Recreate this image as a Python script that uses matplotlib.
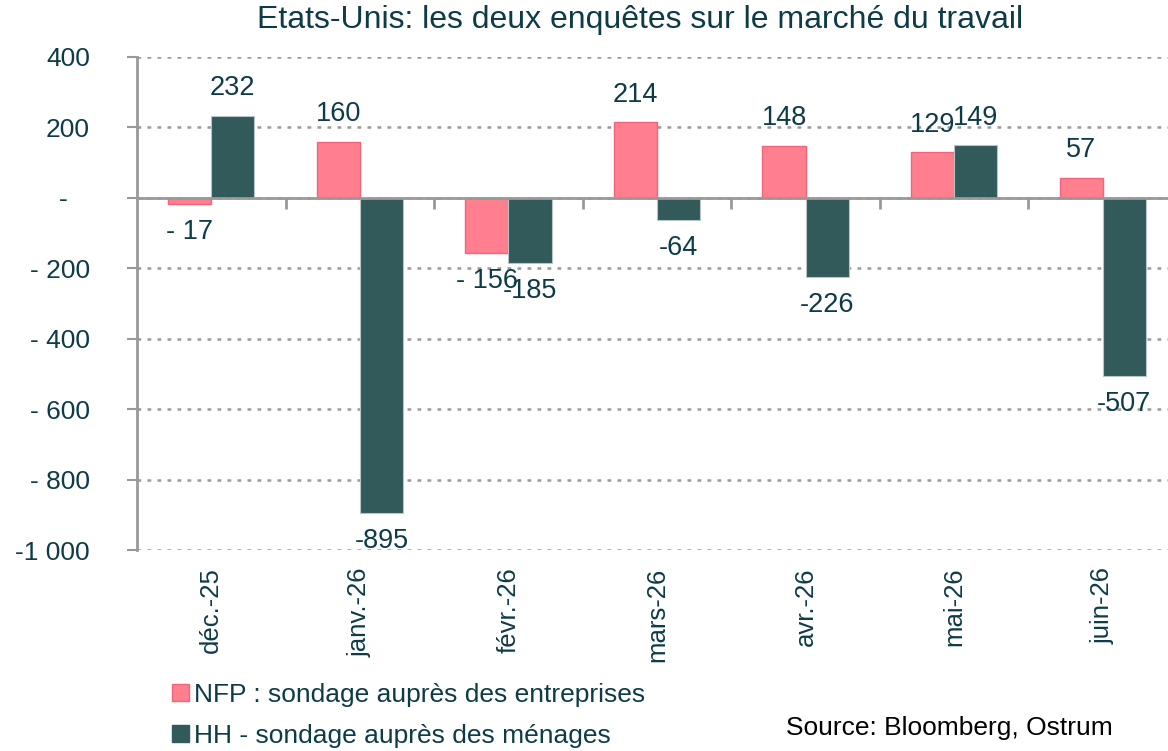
import numpy as np
import matplotlib.pyplot as plt
import matplotlib.transforms as mtransforms
from matplotlib.patches import Patch

plt.rcParams['font.family'] = 'Liberation Sans'

months = ["déc.-25", "janv.-26", "févr.-26", "mars-26", "avr.-26", "mai-26", "juin-26"]
nfp = [-17, 160, -156, 214, 148, 129, 57]
hh = [232, -895, -185, -64, -226, 149, -507]
nfp_labels = ["- 17", "160", "- 156", "214", "148", "129", "57"]
hh_labels = ["232", "-895", "-185", "-64", "-226", "149", "-507"]
yticks = [-1000, -800, -600, -400, -200, 0, 200, 400]
ytick_labels = ["-1 000", "- 800", "- 600", "- 400", "- 200", "-   ", "200", "400"]

txt = '#0e3c46'
pink = '#ff7f8f'
teal = '#335a5a'

fig = plt.figure(figsize=(11.68, 7.51), dpi=100)
ax = fig.add_axes([137/1168, (751-550)/751, (1177-137)/1168, (550-57)/751])

x = np.arange(len(months))
w = 0.29
b1 = ax.bar(x - w/2, nfp, w, color=pink, edgecolor='#f2647c', linewidth=1, zorder=3)
b2 = ax.bar(x + w/2, hh, w, color=teal, edgecolor='#b8c4c4', linewidth=0.8, zorder=3)

for bars, vals, labs in [(b1, nfp, nfp_labels), (b2, hh, hh_labels)]:
    for r, v, s in zip(bars, vals, labs):
        off = 20 if v >= 0 else -20
        ax.annotate(s, (r.get_x() + r.get_width()/2, v), xytext=(0, off),
                    textcoords='offset points', ha='center', va='center',
                    fontsize=19.5, color=txt, zorder=5)

ax.set_xlim(-0.5, len(months) - 0.5)
ax.set_ylim(-1000, 400)
ax.set_yticks(yticks)
ax.set_yticklabels(ytick_labels, fontsize=19, color=txt)
ax.tick_params(axis='y', length=7, width=1.5, color='#999999', pad=27)

ax.grid(axis='y', linestyle=(0, (1.5, 2.5)), color='#999999', linewidth=1.8, zorder=0)
for s in ['top', 'right']:
    ax.spines[s].set_visible(False)
ax.spines['left'].set_color('#999999')
ax.spines['left'].set_linewidth(2)
ax.spines['bottom'].set_position(('data', 0))
ax.spines['bottom'].set_color('#999999')
ax.spines['bottom'].set_linewidth(2)
ax.spines['bottom'].set_zorder(4)

ax.set_xticks(x)
ax.set_xticklabels([])
ax.tick_params(axis='x', which='major', length=0)
ax.set_xticks(x[:-1] + 0.5, minor=True)
ax.tick_params(axis='x', which='minor', length=8, width=2, color='#999999', direction='out')

trans = mtransforms.blended_transform_factory(ax.transData, ax.transAxes)
for xi, m in zip(x, months):
    ax.text(xi, -0.035, m, transform=trans, rotation=90, ha='center', va='top',
            fontsize=18.5, color=txt)

fig.text(0.548, 0.973, "Etats-Unis: les deux enquêtes sur le marché du travail",
         ha='center', va='center', fontsize=23, color=txt)

handles = [Patch(facecolor=pink, edgecolor='#f2647c'), Patch(facecolor=teal, edgecolor=teal)]
leg = fig.legend(handles, ["NFP : sondage auprès des entreprises", "HH - sondage auprès des ménages"],
                 loc='upper left', bbox_to_anchor=(0.138, 0.105), frameon=False,
                 fontsize=19, handlelength=0.65, handleheight=0.65, handletextpad=0.2,
                 labelspacing=0.65, borderaxespad=0)
for t in leg.get_texts():
    t.set_color(txt)

fig.text(1113/1168, 0.031, "Source: Bloomberg, Ostrum", ha='right', va='center',
         fontsize=19, color='black')

fig.savefig("out.png", dpi=100)
